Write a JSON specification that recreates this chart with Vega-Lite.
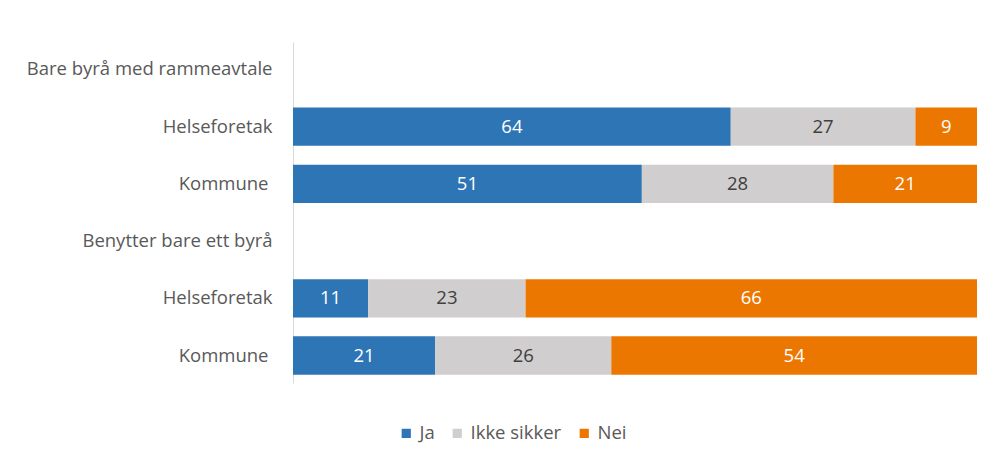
{
  "$schema": "https://vega.github.io/schema/vega-lite/v6.json",
  "width": 684,
  "height": 341,
  "autosize": {"type": "none"},
  "padding": {"left": 293, "top": 42, "right": 15, "bottom": 78},
  "background": "white",
  "config": {"view": {"stroke": null}, "font": "Open Sans"},
  "data": {
    "values": [
      {"row": "r2", "cat": "Ja", "k": 1, "value": 64},
      {"row": "r2", "cat": "Ikke sikker", "k": 2, "value": 27},
      {"row": "r2", "cat": "Nei", "k": 3, "value": 9},
      {"row": "r3", "cat": "Ja", "k": 1, "value": 51},
      {"row": "r3", "cat": "Ikke sikker", "k": 2, "value": 28},
      {"row": "r3", "cat": "Nei", "k": 3, "value": 21},
      {"row": "r5", "cat": "Ja", "k": 1, "value": 11},
      {"row": "r5", "cat": "Ikke sikker", "k": 2, "value": 23},
      {"row": "r5", "cat": "Nei", "k": 3, "value": 66},
      {"row": "r6", "cat": "Ja", "k": 1, "value": 21},
      {"row": "r6", "cat": "Ikke sikker", "k": 2, "value": 26},
      {"row": "r6", "cat": "Nei", "k": 3, "value": 54}
    ]
  },
  "transform": [
    {"stack": "value", "groupby": ["row"], "sort": [{"field": "k", "order": "ascending"}], "as": ["v0", "v1"], "offset": "normalize"},
    {"calculate": "(datum.v0 + datum.v1) / 2", "as": "vmid"}
  ],
  "encoding": {
    "y": {
      "field": "row",
      "type": "nominal",
      "scale": {"domain": ["r1", "r2", "r3", "r4", "r5", "r6"], "paddingInner": 0.33, "paddingOuter": 0.145},
      "axis": {
        "title": null,
        "ticks": false,
        "tickSize": 0,
        "domainColor": "#D9D9D9",
        "domainWidth": 1,
        "labelPadding": {"condition": {"test": "datum.value == 'r3' || datum.value == 'r6'", "value": 25}, "value": 21},
        "labelFontSize": 18.5,
        "labelColor": "#595959",
        "labelFont": "Open Sans",
        "labelLimit": 400,
        "labelExpr": "datum.value == 'r1' ? 'Bare byrå med rammeavtale' : datum.value == 'r4' ? 'Benytter bare ett byrå' : (datum.value == 'r2' || datum.value == 'r5') ? 'Helseforetak' : 'Kommune'"
      }
    }
  },
  "layer": [
    {
      "mark": {"type": "bar"},
      "encoding": {
        "x": {
          "field": "v0",
          "type": "quantitative",
          "scale": {"domain": [0, 1], "nice": false},
          "axis": null
        },
        "x2": {"field": "v1"},
        "color": {
          "field": "cat",
          "type": "nominal",
          "scale": {"domain": ["Ja", "Ikke sikker", "Nei"], "range": ["#2E75B6", "#D0CECE", "#EC7700"]},
          "legend": {
            "title": null,
            "orient": "none",
            "direction": "horizontal",
            "legendX": 104,
            "legendY": 382,
            "symbolType": "square",
            "symbolSize": 85,
            "symbolStrokeWidth": 0,
            "labelFontSize": 18.5,
            "labelColor": "#595959",
            "labelFont": "Open Sans",
            "columnPadding": 13,
            "labelOffset": 4
          }
        }
      }
    },
    {
      "mark": {"type": "text", "fontSize": 18.5, "font": "Open Sans", "baseline": "middle", "align": "center"},
      "encoding": {
        "x": {
          "field": "vmid",
          "type": "quantitative",
          "scale": {"domain": [0, 1], "nice": false},
          "axis": null
        },
        "text": {"field": "value", "type": "quantitative"},
        "color": {
          "condition": {"test": "datum.cat === 'Ikke sikker'", "value": "#404040"},
          "value": "white"
        }
      }
    }
  ]
}
